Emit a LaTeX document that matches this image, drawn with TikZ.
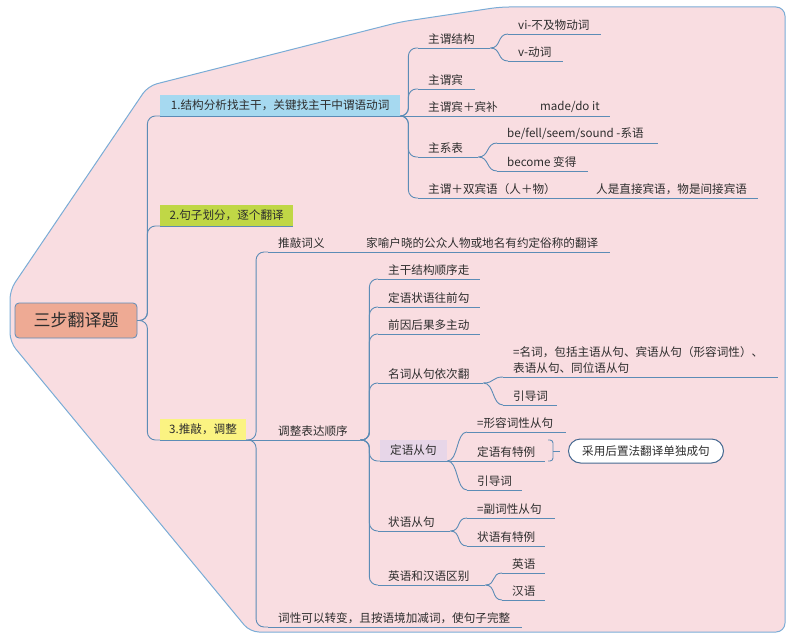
\documentclass[tikz,border=0pt]{standalone}
\usepackage{fontspec}
\newfontfamily\cjk{Noto Sans CJK SC}
\definecolor{bgpink}{RGB}{249,221,225}
\definecolor{bgline}{RGB}{122,172,214}
\definecolor{lc}{RGB}{92,140,182}
\definecolor{txt}{RGB}{45,45,45}
\definecolor{rootf}{RGB}{238,170,148}
\definecolor{rootb}{RGB}{92,140,185}
\definecolor{bone}{RGB}{166,217,240}
\definecolor{btwo}{RGB}{192,215,70}
\definecolor{bthree}{RGB}{251,243,130}
\definecolor{purp}{RGB}{231,214,232}
\definecolor{calb}{RGB}{70,105,145}
\newcommand\tfn{\cjk\fontsize{11.6}{14}\selectfont}
\newcommand\tx[2]{\makebox[#1pt][l]{#2}}
\tikzset{
  conn/.style={draw=lc, line width=0.9pt, rounded corners=8pt},
  ul/.style={draw=lc, line width=0.9pt},
  sc/.style={draw=lc, line width=0.9pt, to path={.. controls +(11,0) and +(-11,0) .. (\tikztotarget) \tikztonodes}},
  tp/.style={anchor=south west, inner xsep=10pt, inner ysep=3.5pt, font=\tfn, text=txt},
  bx/.style={anchor=south west, minimum height=21pt, inner xsep=9pt, inner ysep=0pt, font=\tfn, text=txt},
}
\begin{document}
\begin{tikzpicture}[x=1pt,y=-1pt]
\useasboundingbox (0,0) rectangle (800,642);
% background region
\path[draw=bgline, fill=bgpink, line width=1pt, rounded corners=9pt]
  (10,315) -- (10,290) -- (148,86) -- (400,22) -- (500,7) -- (785,7) -- (785,632) -- (250,632) -- (10,342) -- cycle;

% root
\node[draw=rootb, fill=rootf, rounded corners=4pt, minimum width=122pt, minimum height=35pt,
  line width=0.8pt, font=\cjk\fontsize{17}{20}\selectfont, text=txt] (root) at (76,320.5) {三步翻译题};

% main branches
\node[bx, fill=bone, minimum width=240pt] (b1) at (160,116) {1.结构分析找主干，关键找主干中谓语动词};
\node[bx, fill=btwo, minimum width=133pt] (b2) at (160,226) {2.句子划分，逐个翻译};
\node[bx, fill=bthree, minimum width=85pt] (b3) at (160,440) {3.推敲，调整};

\draw[conn] (root.east) -- ++(10,0) |- (b1.south west);
\draw[conn] (root.east) -- ++(10,0) |- (b2.south west);
\draw[conn] (root.east) -- ++(10,0) |- (b3.south west);

% branch 1 children
\node[tp] (a1) at (418,48) {\tx{52}{主谓结构}};
\node[tp] (a11) at (508,34) {\tx{73}{vi-不及物动词}};
\node[tp] (a12) at (508,61) {\tx{35}{v-动词}};
\node[tp] (a2) at (418,89) {\tx{37}{主谓宾}};
\node[tp] (a3) at (418,116) {\tx{72}{主谓宾＋宾补}};
\node[tp] (a31) at (530,116) {\tx{60}{made/do it}};
\node[tp] (a4) at (418,157) {\tx{40}{主系表}};
\node[tp] (a41) at (497,143) {\tx{141}{be/fell/seem/sound -系语}};
\node[tp] (a42) at (497,171) {\tx{71}{become 变得}};
\node[tp] (a5) at (418,198) {\tx{148}{主谓＋双宾语（人＋物）}};
\node[tp] (a51) at (586,198) {\tx{152}{人是直接宾语，物是间接宾语}};

\draw[conn] (b1.south east) -- ++(8,0) |- (a1.south west);
\draw[conn] (b1.south east) -- ++(8,0) |- (a2.south west);
\draw[ul] (b1.south east) -- (a3.south west);
\draw[conn] (b1.south east) -- ++(8,0) |- (a4.south west);
\draw[conn] (b1.south east) -- ++(8,0) |- (a5.south west);
\draw[ul] (a1.south east) to[sc] (a11.south west);
\draw[ul] (a1.south east) to[sc] (a12.south west);
\draw[ul] (a3.south east) -- (a31.south west);
\draw[ul] (a4.south east) to[sc] (a41.south west);
\draw[ul] (a4.south east) to[sc] (a42.south west);
\draw[ul] (a5.south east) -- (a51.south west);

% branch 3 children
\node[tp] (c1) at (268,252) {\tx{68}{推敲词义}};
\node[tp] (c11) at (356,252) {\tx{234}{家喻户晓的公众人物或地名有约定俗称的翻译}};
\node[tp] (c2) at (268,440) {\tx{72}{调整表达顺序}};
\node[tp] (c3) at (268,627) {\tx{234}{词性可以转变，且按语境加减词，使句子完整}};

\draw[conn] (b3.south east) -- ++(10,0) |- (c1.south west);
\draw[ul] (b3.south east) -- (c2.south west);
\draw[conn] (b3.south east) -- ++(10,0) |- (c3.south west);
\draw[ul] (c1.south east) -- (c11.south west);

% adjust order children
\node[tp] (d1) at (378,279) {\tx{82}{主干结构顺序走}};
\node[tp] (d2) at (378,307) {\tx{82}{定语状语往前勾}};
\node[tp] (d3) at (378,334) {\tx{82}{前因后果多主动}};
\node[tp] (d4) at (378,383) {\tx{85}{名词从句依次翻}};
\node[tp, text width=255pt, align=left, font=\cjk\fontsize{11.6}{16}\selectfont] (d41) at (503,377)
  {=名词，包括主语从句、宾语从句（形容词性）、\\表语从句、同位语从句};
\node[tp] (d42) at (503,405) {\tx{34}{引导词}};
\node[tp, fill=purp, minimum height=21pt, inner ysep=0pt] (d5) at (380,461) {\tx{47}{定语从句}};
\node[tp] (d51) at (467,432) {\tx{79}{=形容词性从句}};
\node[tp] (d52) at (467,461) {\tx{58}{定语有特例}};
\node[tp] (d53) at (467,490) {\tx{35}{引导词}};
\node[tp] (d6) at (378,531) {\tx{52}{状语从句}};
\node[tp] (d61) at (467,518) {\tx{68}{=副词性从句}};
\node[tp] (d62) at (467,546) {\tx{58}{状语有特例}};
\node[tp] (d7) at (378,585) {\tx{87}{英语和汉语区别}};
\node[tp] (d71) at (502,573) {\tx{23}{英语}};
\node[tp] (d72) at (502,600) {\tx{23}{汉语}};

\foreach \n in {d1,d2,d3,d4,d5,d6,d7}
  \draw[conn] (c2.south east) -- ++(9,0) |- (\n.south west);
\draw[ul] (d4.south east) to[sc] (d41.south west);
\draw[ul] (d4.south east) to[sc] (d42.south west);
\draw[ul] (d5.south east) to[sc] (d51.south west);
\draw[ul] (d5.south east) -- (d52.south west);
\draw[ul] (d5.south east) to[sc] (d53.south west);
\draw[ul] (d6.south east) to[sc] (d61.south west);
\draw[ul] (d6.south east) to[sc] (d62.south west);
\draw[ul] (d7.south east) to[sc] (d71.south west);
\draw[ul] (d7.south east) to[sc] (d72.south west);

% underlines
\foreach \n in {b1,b2,b3,a1,a11,a12,a2,a3,a31,a4,a41,a42,a5,a51,c1,c11,c2,c3,d1,d2,d3,d4,d41,d42,d5,d51,d52,d53,d6,d61,d62,d7,d71,d72}
  \draw[ul] (\n.south west) -- (\n.south east);

% summary brace and callout
\node[draw=calb, fill=white, rounded corners=12pt, minimum width=155pt, minimum height=24pt,
  line width=1pt, font=\tfn, text=txt] (e) at (646,451) {采用后置法翻译单独成句};
\draw[ul, rounded corners=3pt] (548,440) -| (553,461) -- (548,461);
\coordinate (bt) at (553,451);
\draw[ul] (bt) -- (560,451);
\end{tikzpicture}
\end{document}
